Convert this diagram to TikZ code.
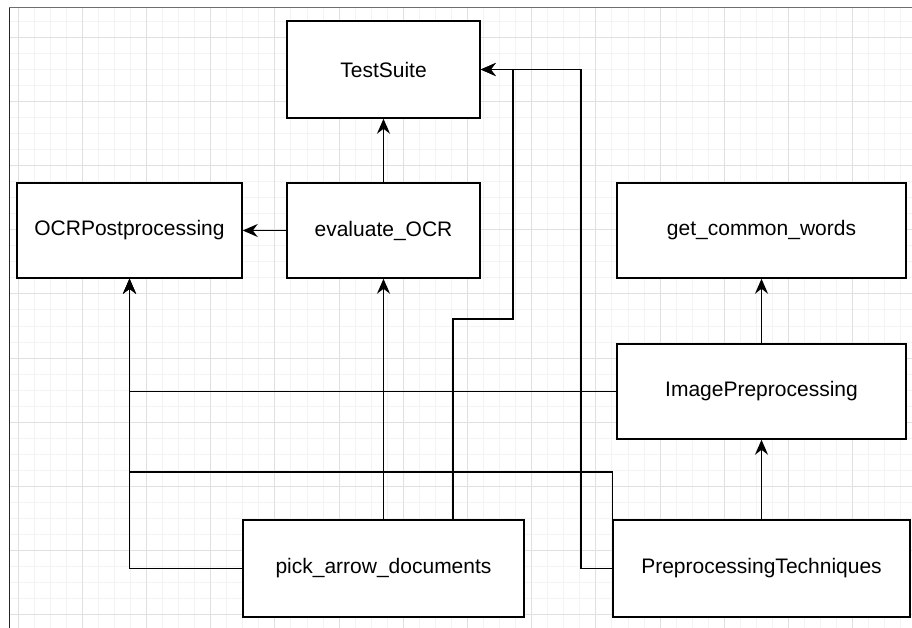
\documentclass[tikz,border=0pt]{standalone}
\usepackage{fontspec}
\setmainfont{Liberation Sans}
\usetikzlibrary{arrows.meta}
\definecolor{gridminor}{HTML}{F3F3F3}
\definecolor{gridmajor}{HTML}{E0E0E0}
\definecolor{frameline}{HTML}{6E6E6E}
\tikzset{
  classbox/.style={draw=black, line width=1.5pt, fill=white, inner sep=0pt,
    font=\fontsize{21}{25}\selectfont},
  link/.style={draw=black, line width=1.5pt,
    -{Stealth[length=15pt, width=13pt, inset=5pt]}},
}
\begin{document}
\begin{tikzpicture}[x=1pt, y=-1pt]
  \useasboundingbox (0,0) rectangle (912,628);
  % canvas background with grid
  \fill[white] (0,0) rectangle (912,628);
  \foreach \i in {0,...,56} {
    \draw[gridminor, line width=0.8pt] ({18+\i*16.05},8) -- ({18+\i*16.05},628);
  }
  \foreach \i in {-1,...,37} {
    \draw[gridminor, line width=0.8pt] (9,{37+\i*16.05}) -- (912,{37+\i*16.05});
  }
  \foreach \i in {0,...,14} {
    \draw[gridmajor, line width=0.8pt] ({18+\i*64.2},8) -- ({18+\i*64.2},628);
  }
  \foreach \i in {0,...,9} {
    \draw[gridmajor, line width=0.8pt] (9,{37+\i*64.2}) -- (912,{37+\i*64.2});
  }
  % canvas frame
  \draw[frameline, line width=1pt] (9,8) -- (912,8);
  \draw[black!85, line width=1pt] (9,8) -- (9,628);

  % classes
  \node[classbox, minimum width=193pt, minimum height=97pt] (ts)   at (383.5,69.5)  {TestSuite};
  \node[classbox, minimum width=225pt, minimum height=95pt] (ocrp) at (129.5,230.5) {OCRPostprocessing};
  \node[classbox, minimum width=193pt, minimum height=95pt] (eval) at (383.5,230.5) {evaluate\_OCR};
  \node[classbox, minimum width=289pt, minimum height=95pt] (gcw)  at (761.5,230.5) {get\_common\_words};
  \node[classbox, minimum width=289pt, minimum height=95pt] (ip)   at (761.5,391.5) {ImagePreprocessing};
  \node[classbox, minimum width=281pt, minimum height=97pt] (pad)  at (383.5,568.5) {pick\_arrow\_documents};
  \node[classbox, minimum width=297pt, minimum height=97pt] (pt)   at (761.5,568.5) {PreprocessingTechniques};

  % bend points of the routed connectors
  \coordinate (padout) at (453,520);
  \coordinate (padbend) at (513,319);
  \coordinate (ptlane) at (581,0);
  \coordinate (ptrow) at (0,472);

  % dependencies
  \draw[link] (eval.north) -- (ts.south);
  \draw[link] (eval.west) -- (ocrp.east);
  \draw[link] (pad.north) -- (eval.south);
  \draw[link] (padout) |- (padbend) |- (ts.east);
  \draw[link] (pt.west) -| (ts.east -| ptlane) -- (ts.east);
  \draw[link] (ip.north) -- (gcw.south);
  \draw[link] (pt.north) -- (ip.south);
  \draw[link] (ip.west) -| (ocrp.south);
  \draw[link] (pt.north west) |- (ptrow -| ocrp.south) -- (ocrp.south);
  \draw[link] (pad.west) -| (ocrp.south);
\end{tikzpicture}
\end{document}
